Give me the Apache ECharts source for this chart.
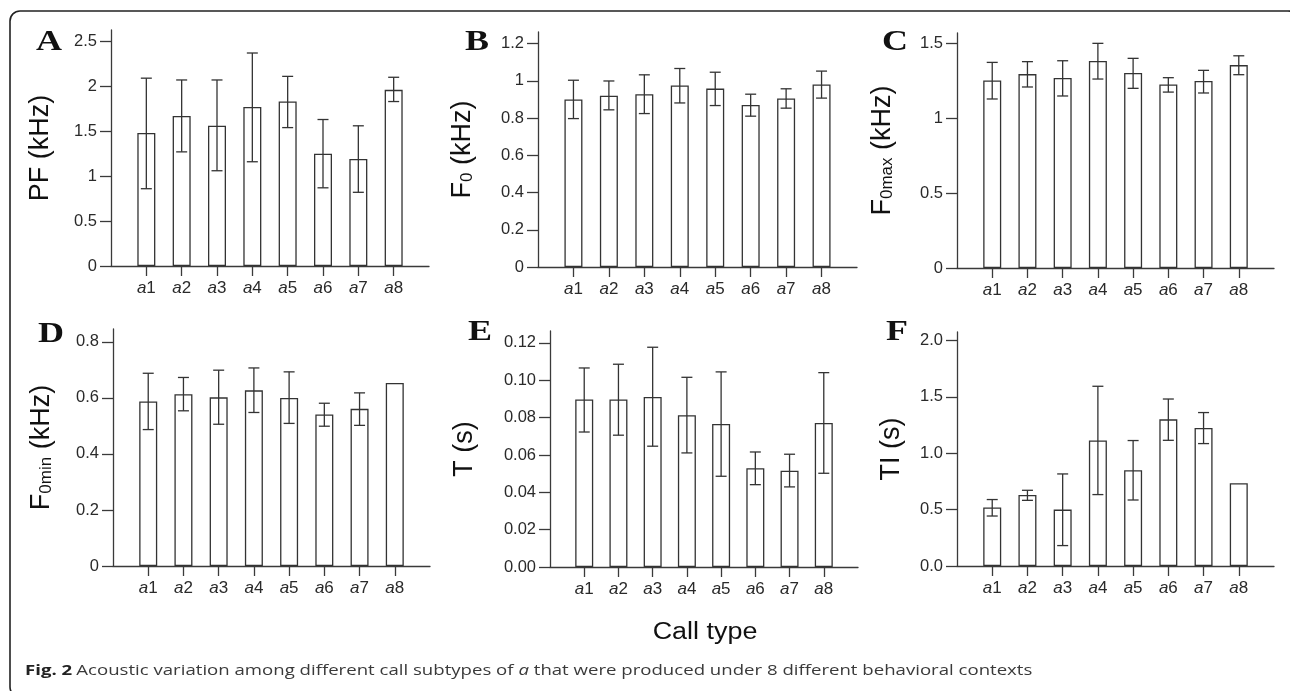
<!DOCTYPE html>
<html>
<head>
<meta charset="utf-8">
<script src="https://cdn.jsdelivr.net/npm/echarts@6/dist/echarts.min.js"></script>
<style>
  html, body { margin: 0; padding: 0; background: #fff; }
  #chart { width: 1290px; height: 691px; }
</style>
</head>
<body>
<div id="chart"></div>
<script>
// ---------------- data ----------------
const categories = ['a1', 'a2', 'a3', 'a4', 'a5', 'a6', 'a7', 'a8'];

// A: PF (kHz)
const pfMean = [1.48, 1.67, 1.56, 1.77, 1.83, 1.25, 1.19, 1.96];
const pfHi   = [2.09, 2.07, 2.07, 2.37, 2.11, 1.63, 1.56, 2.10];
const pfLo   = [0.86, 1.27, 1.06, 1.16, 1.54, 0.87, 0.82, 1.83];
const ticksA = [0, 0.5, 1, 1.5, 2, 2.5];

// B: F0 (kHz)
const f0Mean = [0.900, 0.920, 0.928, 0.975, 0.958, 0.870, 0.905, 0.980];
const f0Hi   = [1.003, 0.999, 1.032, 1.066, 1.046, 0.928, 0.957, 1.052];
const f0Lo   = [0.797, 0.844, 0.824, 0.881, 0.867, 0.810, 0.853, 0.907];
const ticksB = [0, 0.2, 0.4, 0.6, 0.8, 1, 1.2];

// C: F0max (kHz)
const f0maxMean = [1.251, 1.293, 1.267, 1.380, 1.300, 1.224, 1.247, 1.353];
const f0maxHi   = [1.371, 1.376, 1.382, 1.498, 1.398, 1.269, 1.318, 1.415];
const f0maxLo   = [1.127, 1.207, 1.147, 1.260, 1.198, 1.173, 1.167, 1.289];
const ticksC = [0, 0.5, 1, 1.5];

// D: F0min (kHz)
const f0minMean = [0.587, 0.613, 0.602, 0.627, 0.600, 0.541, 0.561, 0.653];
const f0minHi   = [0.688, 0.673, 0.699, 0.707, 0.693, 0.581, 0.618, null];
const f0minLo   = [0.487, 0.554, 0.506, 0.548, 0.509, 0.499, 0.502, null];
const ticksD = [0, 0.2, 0.4, 0.6, 0.8];

// E: T (s)
const tMean = [0.0897, 0.0897, 0.0911, 0.0813, 0.0766, 0.0529, 0.0516, 0.0771];
const tHi   = [0.1066, 0.1086, 0.1177, 0.1016, 0.1045, 0.0616, 0.0604, 0.1041];
const tLo   = [0.0723, 0.0706, 0.0647, 0.0611, 0.0486, 0.0441, 0.0429, 0.0502];
const ticksE = [0, 0.02, 0.04, 0.06, 0.08, 0.10, 0.12];

// F: TI (s)
const tiMean = [0.518, 0.629, 0.500, 1.112, 0.848, 1.300, 1.223, 0.733];
const tiHi   = [0.589, 0.671, 0.816, 1.593, 1.112, 1.480, 1.360, null];
const tiLo   = [0.443, 0.582, 0.181, 0.633, 0.585, 1.114, 1.085, null];
const ticksF = [0, 0.5, 1.0, 1.5, 2.0];

const panelLetters = ['A', 'B', 'C', 'D', 'E', 'F'];
const yNames = ['PF (kHz)', 'F{s|0} (kHz)', 'F{s|0max} (kHz)', 'F{s|0min} (kHz)', 'T (s)', 'TI (s)'];
const xTitle = 'Call type';

// ---------------- layout ----------------
const SANS = '"Liberation Sans", Arial, Helvetica, sans-serif';
const panels = [
  { mean: pfMean,    hi: pfHi,    lo: pfLo,    ticks: ticksA, dec: -1, left: 111, top: 30,  width: 318, height: 236, max: 2.626,  nameGap: 57, lx: 49,  ly: 42 },
  { mean: f0Mean,    hi: f0Hi,    lo: f0Lo,    ticks: ticksB, dec: -1, left: 538, top: 32,  width: 319, height: 235, max: 1.262,  nameGap: 62, lx: 477, ly: 42 },
  { mean: f0maxMean, hi: f0maxHi, lo: f0maxLo, ticks: ticksC, dec: -1, left: 957, top: 33,  width: 317, height: 235, max: 1.567,  nameGap: 61, lx: 895, ly: 42 },
  { mean: f0minMean, hi: f0minHi, lo: f0minLo, ticks: ticksD, dec: -1, left: 113, top: 329, width: 317, height: 237, max: 0.846,  nameGap: 58, lx: 51,  ly: 334 },
  { mean: tMean,     hi: tHi,     lo: tLo,     ticks: ticksE, dec: 2,  left: 550, top: 331, width: 308, height: 236, max: 0.1264, nameGap: 72, lx: 480, ly: 332 },
  { mean: tiMean,    hi: tiHi,    lo: tiLo,    ticks: ticksF, dec: 1,  left: 957, top: 332, width: 317, height: 234, max: 2.074,  nameGap: 52, lx: 897, ly: 332 }
];

const AXIS_COLOR = '#3a3a3a';
const TEXT_COLOR = '#2a2a2a';
const xPositions = categories.map((c, k) => k + 1);

const grids = [], xAxes = [], yAxes = [], series = [], graphics = [];

panels.forEach((p, i) => {
  grids.push({ left: p.left, top: p.top, width: p.width, height: p.height, containLabel: false });
  xAxes.push({
    gridIndex: i, type: 'value', min: 0, max: 9,
    axisLine: { show: true, onZero: false, lineStyle: { color: AXIS_COLOR, width: 1.3 } },
    axisTick: { show: true, customValues: xPositions, length: 10, lineStyle: { color: AXIS_COLOR, width: 1.3 } },
    axisLabel: {
      customValues: xPositions, margin: 14, color: TEXT_COLOR,
      formatter: v => { const c = categories[v - 1] || ''; return '{i|' + c[0] + '}{n|' + c.slice(1) + '}'; },
      rich: {
        i: { fontStyle: 'italic', fontSize: 17, fontFamily: SANS, color: TEXT_COLOR },
        n: { fontSize: 17, fontFamily: SANS, color: TEXT_COLOR }
      }
    },
    splitLine: { show: false }
  });
  yAxes.push({
    gridIndex: i, type: 'value', min: 0, max: p.max,
    axisLine: { show: true, onZero: false, lineStyle: { color: AXIS_COLOR, width: 1.3 } },
    axisTick: { show: true, customValues: p.ticks, length: 11, lineStyle: { color: AXIS_COLOR, width: 1.3 } },
    axisLabel: {
      customValues: p.ticks, margin: 14, color: TEXT_COLOR, fontSize: 16.5, fontFamily: SANS,
      formatter: v => p.dec < 0 ? String(+v.toFixed(4)) : v.toFixed(p.dec)
    },
    splitLine: { show: false },
    name: yNames[i], nameLocation: 'middle', nameGap: p.nameGap,
    nameTextStyle: {
      fontSize: 27, fontFamily: SANS, color: '#111',
      rich: { s: { fontSize: 17, fontFamily: SANS, color: '#111', verticalAlign: 'bottom' } }
    }
  });
  series.push({
    type: 'bar', xAxisIndex: i, yAxisIndex: i, barWidth: 18, silent: true,
    data: p.mean.map((v, k) => [xPositions[k], v]),
    itemStyle: { color: '#ffffff', borderColor: '#333', borderWidth: 1.3 }
  });
  const errData = [];
  p.hi.forEach((h, k) => { if (h != null && p.lo[k] != null) errData.push([xPositions[k], p.lo[k], h]); });
  series.push({
    type: 'custom', xAxisIndex: i, yAxisIndex: i, silent: true, z: 5,
    data: errData,
    encode: { x: 0, y: [1, 2] },
    renderItem: (params, api) => {
      const x = api.value(0), lo = api.value(1), hi = api.value(2);
      const pH = api.coord([x, hi]), pL = api.coord([x, lo]);
      const w = 5.5;
      const style = { stroke: '#333', lineWidth: 1.3 };
      return {
        type: 'group', children: [
          { type: 'line', shape: { x1: pH[0], y1: pH[1], x2: pL[0], y2: pL[1] }, style },
          { type: 'line', shape: { x1: pH[0] - w, y1: pH[1], x2: pH[0] + w, y2: pH[1] }, style },
          { type: 'line', shape: { x1: pL[0] - w, y1: pL[1], x2: pL[0] + w, y2: pL[1] }, style }
        ]
      };
    }
  });
  graphics.push({
    type: 'text', x: p.lx, y: p.ly, scaleX: 1.2, silent: true,
    style: { text: panelLetters[i], font: 'bold 30px "Liberation Serif", "Times New Roman", serif', fill: '#111', align: 'center', verticalAlign: 'middle' }
  });
});

// frame
graphics.unshift({
  type: 'rect', silent: true, z: -1,
  shape: { x: 10, y: 11, width: 1288, height: 686, r: 10 },
  style: { fill: 'none', stroke: '#222', lineWidth: 1.6 }
});
// x title
graphics.push({
  type: 'text', x: 705, y: 633, scaleX: 1.17, silent: true,
  style: { text: xTitle, fontSize: 23, fontFamily: SANS, fill: '#111', align: 'center', verticalAlign: 'middle' }
});
// caption
graphics.push({
  type: 'text', x: 25, y: 671, scaleX: 1.24, silent: true,
  style: {
    text: '{b|Fig. 2} {r|Acoustic variation among different call subtypes of }{i|a}{r| that were produced under 8 different behavioral contexts}',
    align: 'left', verticalAlign: 'middle',
    rich: {
      b: { fontWeight: 'bold', fontSize: 15, fontFamily: '"Open Sans", sans-serif', fill: '#222' },
      r: { fontSize: 15, fontFamily: '"Open Sans", sans-serif', fill: '#3a3a3a' },
      i: { fontStyle: 'italic', fontSize: 15, fontFamily: '"Open Sans", sans-serif', fill: '#3a3a3a' }
    }
  }
});

const chart = echarts.init(document.getElementById('chart'), null, { renderer: 'canvas' });
chart.setOption({
  animation: false,
  backgroundColor: '#ffffff',
  grid: grids,
  xAxis: xAxes,
  yAxis: yAxes,
  series: series,
  graphic: graphics
});
</script>
</body>
</html>
